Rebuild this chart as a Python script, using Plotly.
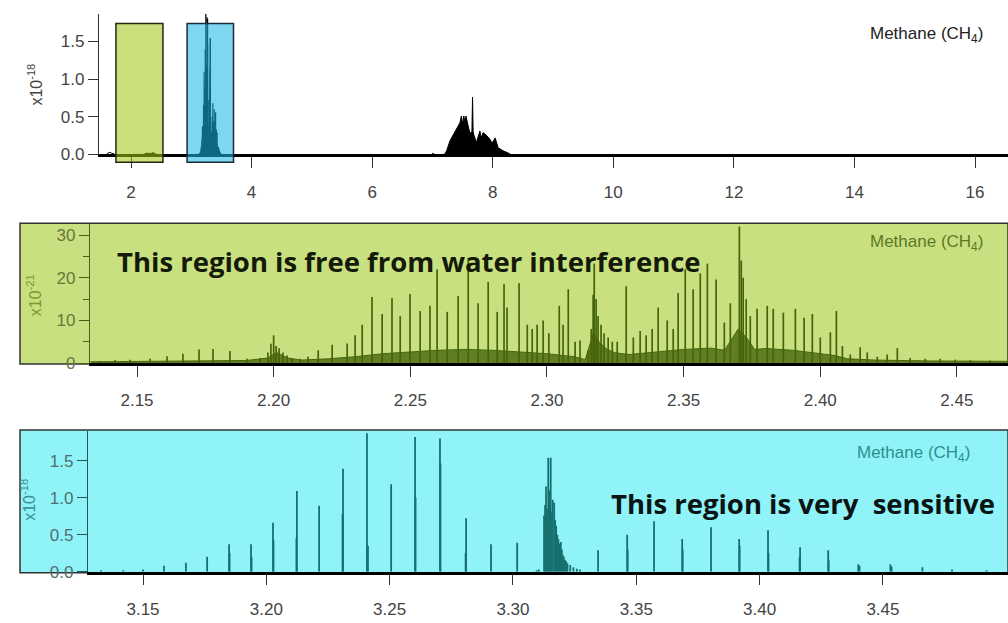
import plotly.graph_objects as go

W, H = 1008, 623

# ---------------- data ----------------
# Panel 3: 3.13-3.50 um region, intensity in 1e-18 units
p3_x = [3.1330, 3.1420, 3.1500, 3.1585, 3.1674, 3.1760, 3.1849, 3.1851, 3.1938, 3.1940,
        3.2027, 3.2029, 3.2124, 3.2122, 3.2214, 3.2311, 3.2309, 3.2408, 3.2412, 3.2506,
        3.2603, 3.2605, 3.2704, 3.2706, 3.2810, 3.2808, 3.2911, 3.3017,
        3.3096, 3.3105, 3.3126, 3.3130, 3.3134, 3.3138, 3.3143, 3.3148, 3.3153, 3.3157,
        3.3161, 3.3167, 3.3171, 3.3175, 3.3180, 3.3184, 3.3189, 3.3194, 3.3198, 3.3202,
        3.3206, 3.3211, 3.3216, 3.3221, 3.3232, 3.3245, 3.3259, 3.3272,
        3.3345, 3.3463, 3.3465, 3.3572, 3.3686, 3.3688, 3.3803, 3.3917, 3.3919, 3.4034,
        3.4036, 3.4164, 3.4162, 3.4278, 3.4280, 3.4400, 3.4405, 3.4530, 3.4535, 3.4660,
        3.4780, 3.4920]
p3_h = [0.02, 0.02, 0.03, 0.08, 0.12, 0.20, 0.37, 0.25, 0.37, 0.20,
        0.66, 0.42, 1.09, 0.45, 0.89, 1.39, 0.78, 1.87, 0.35, 1.18,
        1.82, 1.00, 1.80, 1.46, 0.72, 0.25, 0.37, 0.39,
        0.02, 0.03, 0.76, 0.90, 1.15, 0.85, 1.54, 1.10, 1.54, 0.80,
        0.97, 0.93, 0.70, 0.62, 0.50, 0.44, 0.38, 0.40, 0.30, 0.23,
        0.20, 0.16, 0.14, 0.11, 0.09, 0.06, 0.04, 0.03,
        0.29, 0.50, 0.30, 0.68, 0.44, 0.30, 0.60, 0.44, 0.35, 0.56,
        0.25, 0.33, 0.20, 0.29, 0.15, 0.10, 0.08, 0.10, 0.07, 0.06,
        0.03, 0.02]

# Panel 2: 2.13-2.47 um region, intensity in 1e-21 units (lines)
p2_x = [2.1365, 2.1420, 2.1474, 2.1548, 2.1610, 2.1668, 2.1727, 2.1778, 2.1840, 2.1903,
        2.1950, 2.1979, 2.1990, 2.2000, 2.2009, 2.2020, 2.2034, 2.2049, 2.2067, 2.2097,
        2.2126, 2.2163, 2.2214, 2.2269, 2.2298, 2.2324, 2.2360, 2.2397, 2.2433, 2.2463,
        2.2499, 2.2536, 2.2572, 2.2598, 2.2635, 2.2675, 2.2712, 2.2748, 2.2785, 2.2818,
        2.2843, 2.2854, 2.2898, 2.2928, 2.2946, 2.2964, 2.2986, 2.3007, 2.3045, 2.3059,
        2.3078, 2.3103, 2.3121, 2.3151, 2.3162, 2.3169, 2.3173, 2.3180, 2.3187, 2.3198,
        2.3209, 2.3224, 2.3239, 2.3257, 2.3290, 2.3316, 2.3341, 2.3363, 2.3385, 2.3407,
        2.3440, 2.3462, 2.3480, 2.3506, 2.3535, 2.3561, 2.3587, 2.3619, 2.3649, 2.3671,
        2.3704, 2.3711, 2.3718, 2.3729, 2.3744, 2.3769, 2.3806, 2.3828, 2.3865, 2.3909,
        2.3941, 2.3971, 2.4000, 2.4037, 2.4059, 2.4081, 2.4110, 2.4146, 2.4172, 2.4209,
        2.4245, 2.4282, 2.4329, 2.4384, 2.4439, 2.4494, 2.4549, 2.4622]
p2_h = [0.5, 0.7, 0.8, 1.0, 1.6, 2.2, 3.2, 3.3, 2.8, 1.0,
        1.2, 2.5, 4.5, 6.5, 4.0, 3.5, 2.5, 1.8, 1.2, 1.0,
        1.5, 3.0, 4.3, 4.6, 6.5, 9.0, 15.5, 11.5, 15.2, 11.0,
        16.2, 12.2, 13.4, 22.0, 12.0, 15.7, 24.5, 14.0, 19.0, 12.0,
        18.5, 13.0, 18.7, 9.0, 8.0, 9.0, 10.0, 7.0, 13.4, 9.0,
        17.3, 5.0, 5.3, 3.0, 8.0, 16.0, 23.3, 15.0, 11.0, 9.0,
        7.0, 6.0, 5.0, 5.0, 18.0, 6.0, 7.5, 6.5, 8.0, 13.0,
        10.0, 8.0, 16.4, 22.0, 17.3, 21.0, 23.3, 19.6, 9.5, 14.0,
        32.0, 24.0, 20.0, 15.0, 11.0, 12.7, 13.4, 12.7, 11.8, 12.7,
        10.6, 11.5, 6.0, 7.2, 12.2, 4.0, 2.0, 3.7, 2.5, 1.5,
        2.0, 3.5, 1.2, 1.0, 1.0, 0.8, 0.7, 0.6]

# Panel 2: dense line-forest base level (1e-21 units)
p2_base_x = [2.133, 2.150, 2.170, 2.190, 2.198, 2.201, 2.205, 2.210, 2.220, 2.230,
             2.240, 2.250, 2.260, 2.270, 2.280, 2.290, 2.300, 2.310, 2.314, 2.317,
             2.319, 2.322, 2.325, 2.330, 2.340, 2.350, 2.360, 2.365, 2.370, 2.373,
             2.376, 2.380, 2.390, 2.400, 2.405, 2.410, 2.420, 2.440, 2.469]
p2_base_h = [0.3, 0.4, 0.5, 0.6, 1.2, 2.5, 1.2, 0.7, 1.0, 1.5,
             2.2, 2.6, 3.0, 3.2, 3.0, 2.6, 2.2, 1.5, 0.8, 7.0,
             5.0, 3.2, 2.4, 2.0, 2.6, 3.2, 3.5, 3.0, 8.0, 6.0,
             3.2, 3.4, 3.0, 2.2, 1.8, 1.0, 0.7, 0.5, 0.4]

# Panel 1: 7-8 um band envelope (1e-18 units)
band_x = [7.00, 7.01, 7.02, 7.20, 7.235, 7.29, 7.345, 7.40, 7.456, 7.48, 7.50, 7.52, 7.54,
          7.556, 7.595, 7.62, 7.655, 7.665, 7.675, 7.69, 7.73, 7.787, 7.81, 7.84,
          7.90, 7.955, 7.99, 8.04, 8.09, 8.17, 8.255, 8.30]
band_h = [0.0, 0.02, 0.0, 0.0, 0.05, 0.18, 0.26, 0.35, 0.42, 0.51, 0.40, 0.51, 0.42,
          0.51, 0.35, 0.28, 0.30, 0.76, 0.30, 0.25, 0.16, 0.31, 0.22, 0.29,
          0.25, 0.20, 0.15, 0.22, 0.09, 0.05, 0.02, 0.0]
# Panel 1: weak feature near 1.65 um
weak_x = [1.60, 1.65, 1.68, 1.72]
weak_h = [0.01, 0.03, 0.015, 0.01]

# Highlight boxes on the overview (um)
green_box = [1.75, 2.53]
blue_box = [2.93, 3.70]

# Tick values
x1_ticks = [2, 4, 6, 8, 10, 12, 14, 16]
x2_ticks = [2.15, 2.20, 2.25, 2.30, 2.35, 2.40, 2.45]
x3_ticks = [3.15, 3.20, 3.25, 3.30, 3.35, 3.40, 3.45]
y1_ticks = [0.0, 0.5, 1.0, 1.5]
y2_ticks = [0, 10, 20, 30]
y3_ticks = [0.0, 0.5, 1.0, 1.5]


def sticks(xs, hs, scale=1.0):
    xx, yy = [], []
    for x, h in zip(xs, hs):
        xx += [x, x, None]
        yy += [0, h * scale, None]
    return xx, yy


def px(v):
    return v / W


def py(v):
    return 1 - v / H


fig = go.Figure()

# ---------- panel 1 (overview) ----------
bx, by = sticks(p3_x, p3_h)
fig.add_trace(go.Scatter(x=bx, y=by, mode="lines", line=dict(color="black", width=1.2),
                         xaxis="x", yaxis="y", hoverinfo="skip"))
gx, gy = sticks(p2_x, p2_h, 0.001)
fig.add_trace(go.Scatter(x=gx, y=gy, mode="lines", line=dict(color="black", width=1.2),
                         xaxis="x", yaxis="y", hoverinfo="skip"))
fig.add_trace(go.Scatter(x=p2_base_x, y=[h * 0.001 for h in p2_base_h], mode="lines",
                         fill="tozeroy", fillcolor="black", line=dict(color="black", width=1),
                         xaxis="x", yaxis="y", hoverinfo="skip"))
fig.add_trace(go.Scatter(x=band_x, y=band_h, mode="lines", fill="tozeroy", fillcolor="black",
                         line=dict(color="black", width=1), xaxis="x", yaxis="y", hoverinfo="skip"))
fig.add_trace(go.Scatter(x=weak_x, y=weak_h, mode="lines", line=dict(color="black", width=1),
                         xaxis="x", yaxis="y", hoverinfo="skip"))

# ---------- panel 2 ----------
olive = "#46650b"
fig.add_trace(go.Scatter(x=p2_base_x, y=p2_base_h, mode="lines", fill="tozeroy",
                         fillcolor="rgba(70,101,11,0.8)", line=dict(color=olive, width=1),
                         xaxis="x2", yaxis="y2", hoverinfo="skip"))
sx, sy = sticks(p2_x, p2_h)
fig.add_trace(go.Scatter(x=sx, y=sy, mode="lines", line=dict(color=olive, width=1.7),
                         xaxis="x2", yaxis="y2", hoverinfo="skip"))

# ---------- panel 3 ----------
teal = "#17706f"
tx, ty = sticks(p3_x, p3_h)
fig.add_trace(go.Scatter(x=tx, y=ty, mode="lines", line=dict(color=teal, width=1.8),
                         xaxis="x3", yaxis="y3", hoverinfo="skip"))

tickfont = dict(family="Liberation Sans, Arial", size=17, color="#444444")

common_x = dict(showline=True, linewidth=2.5, linecolor="black", ticks="outside",
                ticklen=11, tickwidth=1.3, tickcolor="#333333", showgrid=False,
                zeroline=False, tickfont=tickfont, ticklabelstandoff=9)
common_y = dict(showline=True, linewidth=1.2, ticks="outside", ticklen=10, tickwidth=1.3,
                showgrid=False, zeroline=False, tickformat=".1f")

fig.update_layout(
    width=W, height=H, margin=dict(l=0, r=0, t=0, b=0),
    paper_bgcolor="white", plot_bgcolor="rgba(0,0,0,0)", showlegend=False,
    xaxis=dict(domain=[px(99), 1], range=[1.469, 16.547], tickvals=x1_ticks,
               anchor="y", **common_x),
    yaxis=dict(domain=[py(157), py(14)], range=[0, 1.865], tickvals=y1_ticks, anchor="x",
               linecolor="#333333", tickcolor="#333333", tickfont=tickfont, **common_y),
    xaxis2=dict(domain=[px(90), 1], range=[2.1328, 2.4687], tickvals=x2_ticks,
                tickformat=".2f", anchor="y2", **common_x),
    yaxis2=dict(domain=[py(369), py(228)], range=[0, 32.5], tickvals=y2_ticks, anchor="x2",
                linecolor="#4a5e1a", tickcolor="#4a5e1a",
                tickfont=dict(family="Liberation Sans, Arial", size=17, color="#66783a"),
                minor=dict(dtick=5, tick0=0, ticks="outside", ticklen=6, tickcolor="#4a5e1a"),
                **{k: v for k, v in common_y.items() if k != "tickformat"}),
    xaxis3=dict(domain=[px(88), 1], range=[3.1277, 3.5007], tickvals=x3_ticks,
                tickformat=".2f", anchor="y3", **common_x),
    yaxis3=dict(domain=[py(581), py(438)], range=[0, 1.9], tickvals=y3_ticks, anchor="x3",
                linecolor="#1d5a5a", tickcolor="#1d5a5a",
                tickfont=dict(family="Liberation Sans, Arial", size=17, color="#4f6f70"),
                **common_y),
)

shapes = [
    # panel backgrounds
    dict(type="rect", xref="paper", yref="paper", x0=px(20), x1=1.0, y0=py(370), y1=py(227),
         fillcolor="#c8e07f", line=dict(color="#333333", width=1.5), layer="below"),
    dict(type="rect", xref="paper", yref="paper", x0=px(20), x1=1.0, y0=py(582), y1=py(437),
         fillcolor="#90f3f8", line=dict(color="#333333", width=1.5), layer="below"),
    # highlight boxes on overview
    dict(type="rect", xref="x", yref="paper", x0=green_box[0], x1=green_box[1],
         y0=py(165), y1=py(24), fillcolor="rgba(157,198,20,0.56)",
         line=dict(color="#222a10", width=1.5), layer="above"),
    dict(type="rect", xref="x", yref="paper", x0=blue_box[0], x1=blue_box[1],
         y0=py(165), y1=py(24), fillcolor="rgba(25,182,228,0.56)",
         line=dict(color="#1b2c38", width=1.5), layer="above"),
]
fig.update_layout(shapes=shapes)

lab = dict(family="Liberation Sans, Arial", size=17)
ann = [
    dict(x=px(926), y=py(36), text="Methane (CH<sub>4</sub>)", font=dict(color="#222222", **lab)),
    dict(x=px(926), y=py(247), text="Methane (CH<sub>4</sub>)", font=dict(color="#5c7a25", **lab)),
    dict(x=px(913), y=py(461), text="Methane (CH<sub>4</sub>)", font=dict(color="#2f8f8f", **lab)),
    dict(x=px(35), y=py(86), text="x10<sup>-18</sup>", textangle=-90,
         font=dict(color="#444444", family="Liberation Sans, Arial", size=16)),
    dict(x=px(34), y=py(300), text="x10<sup>-21</sup>", textangle=-90,
         font=dict(color="#7a9a2a", family="Liberation Sans, Arial", size=16)),
    dict(x=px(28), y=py(508), text="x10<sup>-18</sup>", textangle=-90,
         font=dict(color="#3a8f8f", family="Liberation Sans, Arial", size=16)),
    dict(x=px(409), y=py(266), text="<b>This region is free from water interference</b>",
         font=dict(family="Open Sans", size=27.5, color="#141a0a")),
    dict(x=px(803), y=py(512), text="<b>This region is very\u00a0 sensitive</b>",
         font=dict(family="Open Sans", size=27.5, color="#0a1414")),
]
for a in ann:
    a.update(xref="paper", yref="paper", showarrow=False, xanchor="center", yanchor="middle")
fig.update_layout(annotations=ann)

fig.write_html("out.html")
